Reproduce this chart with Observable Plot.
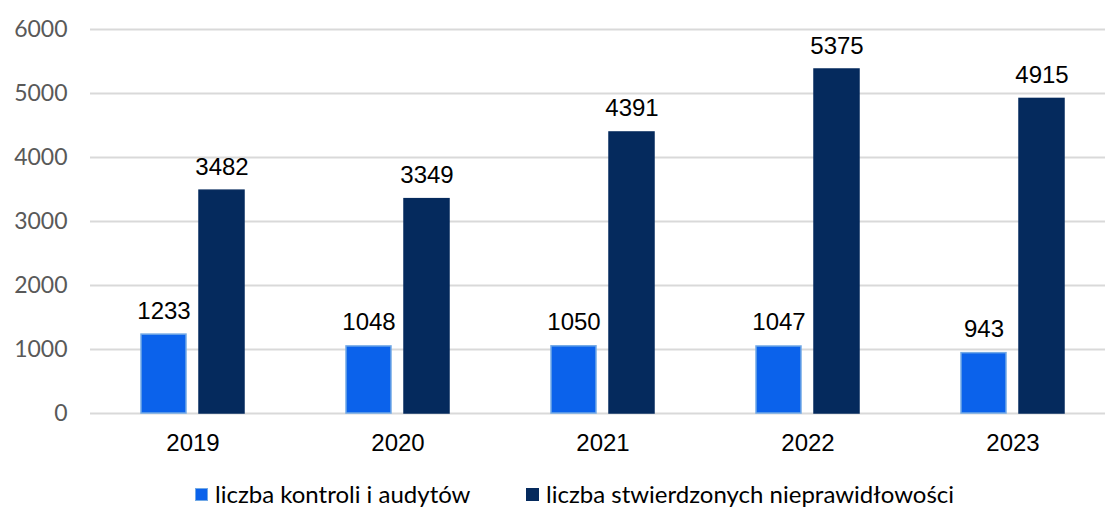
<!DOCTYPE html>
<html>
<head>
<meta charset="utf-8">
<script src="https://cdn.jsdelivr.net/npm/d3@7"></script>
<script src="https://cdn.jsdelivr.net/npm/@observablehq/plot@0.6"></script>
<style>
  html, body { margin: 0; padding: 0; background: #fff; overflow: hidden; }
  #chart { width: 1105px; }
  .legend { position: relative; font-family: Lato, sans-serif; font-size: 24px; color: #000; height: 39px; }
  .item { display: flex; align-items: center; position: absolute; top: 10px; line-height: 28px; }
  .sw { width: 13px; height: 13px; margin-right: 7px; box-sizing: border-box; }
</style>
</head>
<body>
<div id="chart"></div>
<script>
const years = ["2019", "2020", "2021", "2022", "2023"];
const seriesNames = ["liczba kontroli i audytów", "liczba stwierdzonych nieprawidłowości"];
const kontrole = [1233, 1048, 1050, 1047, 943];
const nieprawidlowosci = [3482, 3349, 4391, 5375, 4915];
const yTicks = [0, 1000, 2000, 3000, 4000, 5000, 6000];
const colors = ["#0b62eb", "#052a5d"];
const strokes = ["#72a9e6", "#052a5d"];

const data = years.flatMap((y, i) => [
  {year: y, series: seriesNames[0], value: kontrole[i]},
  {year: y, series: seriesNames[1], value: nieprawidlowosci[i]}
]);

const chart = Plot.plot({
  width: 1105,
  height: 470,
  marginTop: 29,
  marginBottom: 57,
  marginLeft: 89,
  marginRight: 0,
  style: {fontFamily: "Lato, sans-serif", fontSize: "23px", background: "#fff"},
  fx: {domain: years, range: [89, 1116.5], padding: 0, label: null, axis: null},
  x: {domain: seriesNames, paddingInner: 0.22, paddingOuter: 0.85, axis: null},
  y: {domain: [0, 6000], ticks: yTicks, label: null, axis: null},
  color: {domain: seriesNames, range: colors},
  marks: [
    Plot.gridY(yTicks, {stroke: "#d9d9d9", strokeOpacity: 1, strokeWidth: 2}),
    Plot.axisY(yTicks, {tickSize: 0, tickPadding: 23, tickFormat: d => String(d), fill: "#595959", fontSize: 23, fontFamily: "Lato, sans-serif", label: null}),
    Plot.barY(data, {fx: "year", x: "series", y: "value", fill: "series",
      stroke: d => d.series === seriesNames[0] ? strokes[0] : strokes[1], strokeWidth: 1.5}),
    Plot.text(data, {fx: "year", x: "series", y: "value", text: d => String(d.value),
      dy: -16, lineAnchor: "bottom", fill: "#000", fontSize: 24, fontFamily: "Liberation Sans, Arial, sans-serif"}),
    Plot.axisFx({anchor: "bottom", tickSize: 0, tickPadding: 20, fill: "#000", fontSize: 24, fontFamily: "Liberation Sans, Arial, sans-serif", label: null})
  ]
});
document.getElementById("chart").appendChild(chart);

const legend = document.createElement("div");
legend.className = "legend";
const positions = [195, 526];
seriesNames.forEach((s, i) => {
  const it = document.createElement("div");
  it.className = "item";
  it.style.left = positions[i] + "px";
  const sw = document.createElement("div");
  sw.className = "sw";
  sw.style.background = colors[i];
  if (i === 0) sw.style.border = "1.5px solid " + strokes[0];
  const t = document.createElement("span");
  t.textContent = s;
  it.appendChild(sw); it.appendChild(t);
  legend.appendChild(it);
});
document.body.appendChild(legend);
</script>
</body>
</html>
